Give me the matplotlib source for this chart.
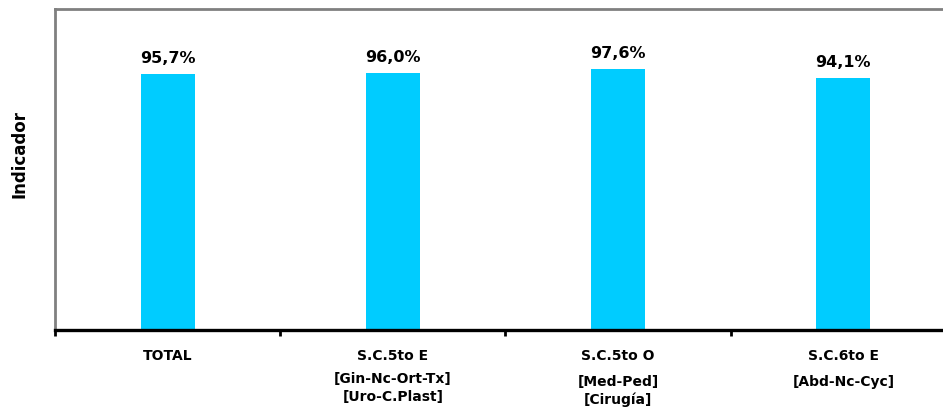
import matplotlib as mpl
import matplotlib.pyplot as plt

mpl.rcParams['font.family'] = 'DejaVu Sans'

# data
categories = ["TOTAL", "S.C.5to E", "S.C.5to O", "S.C.6to E"]
sublabels = [[], ["[Gin-Nc-Ort-Tx]", "[Uro-C.Plast]"], ["[Med-Ped]", "[Cirugía]"], ["[Abd-Nc-Cyc]"]]
values = [95.7, 96.0, 97.6, 94.1]
value_labels = ["95,7%", "96,0%", "97,6%", "94,1%"]

fig = plt.figure(figsize=(9.43, 4.09), dpi=100)
ax = fig.add_axes([55 / 943, 79 / 409, 901 / 943, 321 / 409])

x = range(len(categories))
ax.bar(x, values, width=0.24, color='#00CCFF', zorder=2)

ax.set_xlim(-0.5, len(categories) - 0.5)
ax.set_ylim(0, 120)

# spines
ax.spines['right'].set_visible(False)
ax.spines['top'].set_color('#808080')
ax.spines['top'].set_linewidth(2.0)
ax.spines['left'].set_color('#808080')
ax.spines['left'].set_linewidth(2.0)
ax.spines['bottom'].set_color('black')
ax.spines['bottom'].set_linewidth(2.4)

# ticks only at category boundaries
ax.set_yticks([])
ax.set_xticks([i - 0.5 for i in range(len(categories))])
ax.tick_params(axis='x', direction='out', length=4, width=2, color='black', labelbottom=False)

# value labels
for xi, v, lab in zip(x, values, value_labels):
    ax.annotate(lab, (xi, v), xytext=(0, 6), textcoords='offset points',
                ha='center', va='bottom', fontsize=11.5, fontweight='bold')

# category labels
trans = ax.get_xaxis_transform()
line_y = {0: [], 1: [379, 397], 2: [382, 400], 3: [382]}
for i, cat in enumerate(categories):
    ax.text(i, (330 - 356) / 321, cat, transform=trans, ha='center', va='center',
            fontsize=10, fontweight='bold')
    for sub, py in zip(sublabels[i], line_y[i]):
        ax.text(i, (330 - py) / 321, sub, transform=trans, ha='center', va='center',
                fontsize=10, fontweight='bold')

fig.text(20 / 943, 1 - 154 / 409, "Indicador", rotation=90, ha='center', va='center',
         fontsize=12, fontweight='bold')

fig.savefig("out.png", dpi=100)
